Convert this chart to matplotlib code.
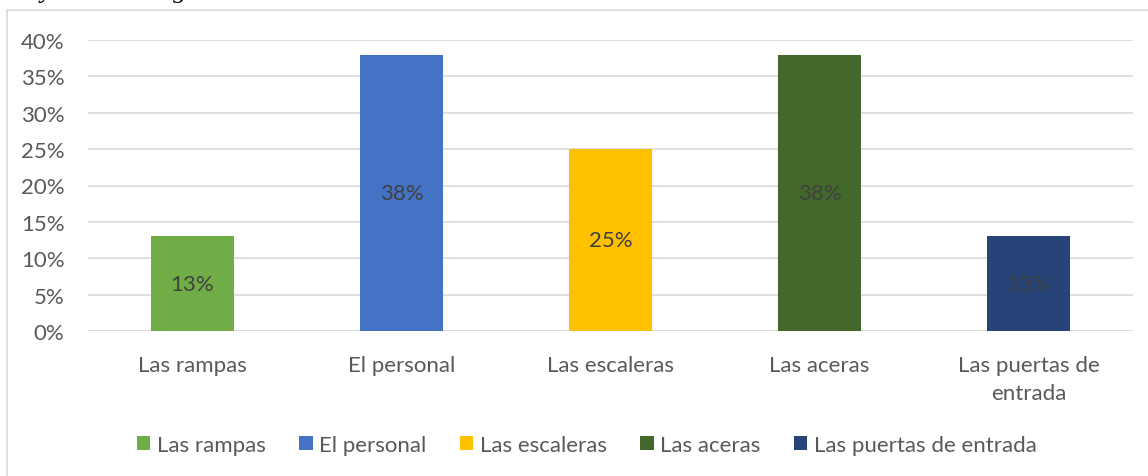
import matplotlib
matplotlib.use("Agg")
import matplotlib.pyplot as plt
from matplotlib.patches import Rectangle, Patch
from matplotlib.ticker import FuncFormatter, MultipleLocator

categories = ["Las rampas", "El personal", "Las escaleras", "Las aceras", "Las puertas de\nentrada"]
legend_names = ["Las rampas", "El personal", "Las escaleras", "Las aceras", "Las puertas de entrada"]
values = [13, 38, 25, 38, 13]
colors = ["#70ad47", "#4472c4", "#ffc000", "#43682b", "#264478"]

plt.rcParams["font.family"] = ["Lato", "DejaVu Sans"]
FS = 16

W, H = 1148, 477
fig = plt.figure(figsize=(W / 100, H / 100), dpi=100)

# chart border (extends past the right and bottom edges)
fig.patches.append(Rectangle((7 / W, -0.1), 1.2, 1 - 11 / H + 0.1, transform=fig.transFigure,
                             fill=False, edgecolor="#d9d9d9", linewidth=1.2))

# caption of the page above the chart, mostly cut off by the top edge
fig.text(26 / W, 1 + 2 / H, "Ayudada al ingreso del establecimiento", fontsize=19,
         family="Liberation Serif", style="italic", color="#000000", va="baseline")

ax = fig.add_axes([88 / W, 1 - 332 / H, 1045 / W, 291 / H])
x = range(len(categories))
bars = ax.bar(x, values, width=0.4, color=colors, zorder=3)
for b, v in zip(bars, values):
    ax.text(b.get_x() + b.get_width() / 2, v / 2, f"{v}%", ha="center", va="center",
            fontsize=FS, color="#404040", zorder=4)

ax.set_xlim(-0.5, len(categories) - 0.5)
ax.set_ylim(0, 40)
ax.yaxis.set_major_locator(MultipleLocator(5))
ax.yaxis.set_major_formatter(FuncFormatter(lambda v, p: f"{v:.0f}%"))
ax.set_xticks(list(x))
ax.set_xticklabels(categories, fontsize=FS, color="#595959", linespacing=1.55)
ax.tick_params(axis="y", labelsize=FS, labelcolor="#595959", length=0, pad=17)
ax.tick_params(axis="x", length=0, pad=17)
ax.grid(axis="y", color="#d9d9d9", linewidth=1.2, zorder=0)
for s in ax.spines.values():
    s.set_visible(False)

handles = [Patch(facecolor=c, label=n) for c, n in zip(colors, legend_names)]
fig.legend(handles=handles, loc="center", bbox_to_anchor=(587 / W, 1 - 446 / H), ncol=5,
           frameon=False, fontsize=FS, handlelength=0.6, handleheight=0.6,
           handletextpad=0.3, columnspacing=1.5, labelcolor="#595959")

fig.savefig("out.png", dpi=100)
